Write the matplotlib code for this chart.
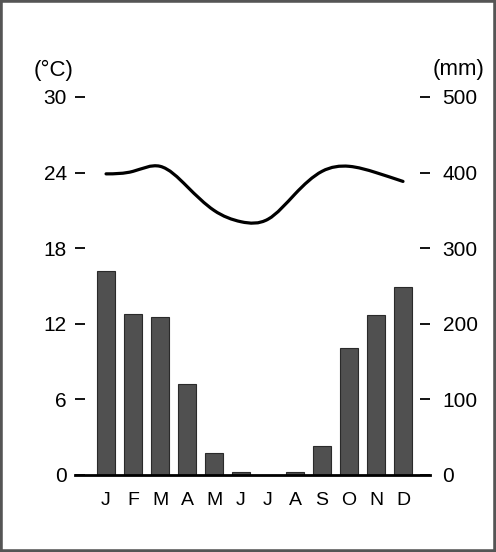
import matplotlib
matplotlib.use("Agg")
import matplotlib.pyplot as plt
import numpy as np
from matplotlib.path import Path
from matplotlib.patches import PathPatch, Rectangle

plt.rcParams['font.family'] = ['Liberation Sans', 'DejaVu Sans']

months = ['J', 'F', 'M', 'A', 'M', 'J', 'J', 'A', 'S', 'O', 'N', 'D']
precip_mm = [270, 213, 209, 120, 29, 4, 0, 4, 39, 168, 212, 249]
temp_c = [23.9, 24.1, 24.5, 22.9, 21.0, 20.1, 20.3, 22.3, 24.1, 24.5, 24.0, 23.3]
temp_ticks = [0, 6, 12, 18, 24, 30]
precip_ticks = [0, 100, 200, 300, 400, 500]

W, H = 496, 552
fig = plt.figure(figsize=(W / 100, H / 100), dpi=100)

left, right = 75 / W, 430 / W
bottom, top = 1 - 475 / H, 1 - 97 / H
ax = fig.add_axes([left, bottom, right - left, top - bottom])
ax2 = ax.twinx()

x = np.arange(len(months))
ax2.bar(x, precip_mm, width=0.7, color='#505050', edgecolor='#2a2a2a', linewidth=0.8, zorder=2)

# smooth temperature curve: natural cubic spline through the monthly values,
# rendered as Bezier segments by matplotlib
y = np.asarray(temp_c, dtype=float)
n = len(y)
A = np.zeros((n, n))
b = np.zeros(n)
A[0, 0] = A[-1, -1] = 1.0
for i in range(1, n - 1):
    A[i, i - 1], A[i, i], A[i, i + 1] = 1.0, 4.0, 1.0
    b[i] = 6.0 * (y[i + 1] - 2 * y[i] + y[i - 1])
M = np.linalg.solve(A, b)
m = np.zeros(n)
for i in range(n - 1):
    m[i] = (y[i + 1] - y[i]) - (2 * M[i] + M[i + 1]) / 6.0
m[-1] = (y[-1] - y[-2]) + (M[-2] + 2 * M[-1]) / 6.0
verts = [(x[0], y[0])]
codes = [Path.MOVETO]
for i in range(n - 1):
    verts += [(x[i] + 1 / 3, y[i] + m[i] / 3),
              (x[i + 1] - 1 / 3, y[i + 1] - m[i + 1] / 3),
              (x[i + 1], y[i + 1])]
    codes += [Path.CURVE4] * 3
ax.add_patch(PathPatch(Path(verts, codes), facecolor='none', edgecolor='black',
                       lw=2.3, capstyle='round', zorder=3))
ax.set_zorder(ax2.get_zorder() + 1)
ax.patch.set_visible(False)

ax.set_xlim(-1.15, 12.0)
ax.set_ylim(0, 30)
ax2.set_ylim(0, 500)

for a in (ax, ax2):
    for s in a.spines.values():
        s.set_visible(False)
ax.spines['bottom'].set_visible(True)
ax.spines['bottom'].set_linewidth(2.0)

ax.set_yticks(temp_ticks)
ax.set_yticklabels([str(t) for t in temp_ticks], fontsize=15)
ax.tick_params(axis='y', direction='in', length=7, width=1.3, pad=6)
ax2.set_yticks(precip_ticks)
ax2.set_yticklabels([str(t) for t in precip_ticks], fontsize=15)
ax2.tick_params(axis='y', direction='in', length=7, width=1.3, pad=9)

ax.set_xticks(x)
ax.set_xticklabels(months, fontsize=14)
ax.tick_params(axis='x', length=0, pad=12)

fig.text(54 / W, 1 - 70 / H, '(°C)', fontsize=16, ha='center', va='center')
fig.text(459 / W, 1 - 70 / H, '(mm)', fontsize=16, ha='center', va='center')

fig.patches.append(Rectangle((0, 0), 1, 1, transform=fig.transFigure, fill=False,
                             edgecolor='#555555', linewidth=4))

fig.savefig('out.png', dpi=100)
